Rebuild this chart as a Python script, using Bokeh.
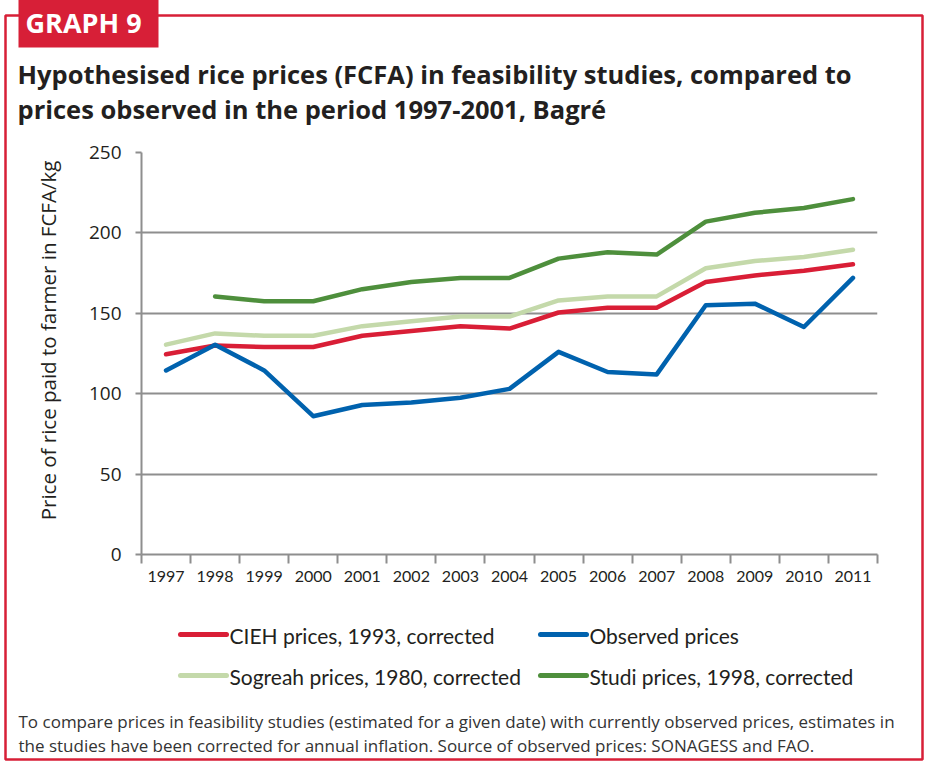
import math
from bokeh.plotting import figure
from bokeh.models import Range1d, FixedTicker
from bokeh.core.properties import value
from bokeh.embed import file_html
from bokeh.resources import INLINE

years = [1997, 1998, 1999, 2000, 2001, 2002, 2003, 2004, 2005, 2006, 2007, 2008, 2009, 2010, 2011]
cieh = [124.5, 130, 129, 129, 136, 139, 142, 140.5, 150.5, 153.5, 153.5, 169.5, 173.5, 176.5, 180.5]
observed = [114.5, 130.5, 114.5, 86, 93, 94.5, 97.5, 103, 126, 113.5, 112, 155, 156, 141.5, 172]
sogreah = [130.5, 137.5, 136, 136, 142, 145, 148, 148, 158, 160.5, 160.5, 178, 182.5, 185, 189.5]
studi = [float("nan"), 160.5, 157.5, 157.5, 165, 169.5, 172, 172, 184, 188, 186.5, 207, 212.5, 215.5, 221]
y_ticks = [0, 50, 100, 150, 200, 250]

series_names = ["CIEH prices, 1993, corrected", "Observed prices",
                "Sogreah prices, 1980, corrected", "Studi prices, 1998, corrected"]
series_colors = ["#D91E36", "#0062AE", "#C4D9AA", "#4E8F3C"]

title_lines = ["Hypothesised rice prices (FCFA) in feasibility studies, compared to",
               "prices observed in the period 1997-2001, Bagré"]
y_label = "Price of rice paid to farmer in FCFA/kg"
note_lines = ["To compare prices in feasibility studies (estimated for a given date) with currently observed prices, estimates in",
              "the studies have been corrected for annual inflation. Source of observed prices: SONAGESS and FAO."]

RED = "#D71F37"
GRAY = "#8E8E8E"
TXT = "#231F20"
NARROW = "Lato"
SANS = "Open Sans"

W, H = 926, 762
FL, FT, FR, FB = 141, 152, 877, 554

p = figure(width=W, height=H, output_backend="svg", toolbar_location=None,
           x_range=Range1d(1996.5, 2011.5), y_range=Range1d(0, 250),
           min_border_left=FL, min_border_right=W - FR, min_border_top=FT, min_border_bottom=H - FB)
p.outline_line_color = None
p.background_fill_color = "white"
p.border_fill_color = "white"
# page-pixel ranges for the decorations around the chart (y grows downwards)
p.extra_x_ranges = {"page": Range1d(FL, FR)}
p.extra_y_ranges = {"page": Range1d(FB, FT)}

# axes
yax = p.yaxis[0]
yax.ticker = FixedTicker(ticks=y_ticks)
yax.major_tick_out = 6
yax.major_tick_in = 0
yax.minor_tick_out = 0
yax.minor_tick_in = 0
yax.axis_line_color = GRAY
yax.axis_line_width = 2
yax.major_tick_line_color = GRAY
yax.major_tick_line_width = 2
yax.major_label_text_font = SANS
yax.major_label_text_font_size = "19px"
yax.major_label_text_color = TXT
yax.major_label_standoff = 14

xax = p.xaxis[0]
xax.ticker = FixedTicker(ticks=years, minor_ticks=[y - 0.5 for y in years] + [years[-1] + 0.5])
xax.major_tick_out = 0
xax.major_tick_in = 0
xax.minor_tick_out = 9
xax.minor_tick_in = 0
xax.minor_tick_line_color = GRAY
xax.minor_tick_line_width = 2
xax.axis_line_color = GRAY
xax.axis_line_width = 2
xax.major_label_overrides = {y: str(y) for y in years}
xax.major_label_text_font = NARROW
xax.major_label_text_font_size = "16px"
xax.major_label_text_color = TXT
xax.major_label_standoff = 7

p.xgrid.visible = False
p.ygrid.ticker = FixedTicker(ticks=y_ticks)
p.ygrid.grid_line_color = GRAY
p.ygrid.grid_line_width = 2

# lines
lw = 4.5
for vals, col in [(cieh, series_colors[0]), (sogreah, series_colors[2]),
                  (studi, series_colors[3]), (observed, series_colors[1])]:
    p.line(years, vals, line_color=col, line_width=lw, line_join="round", line_cap="round")

deco = dict(x_range_name="page", y_range_name="page", level="overlay")

# legend (2 x 2), drawn in page pixels below the axis
leg_x = [180, 540, 180, 540]
leg_y = [634, 634, 675, 675]
p.segment(x0=leg_x, y0=leg_y, x1=[x + 46 for x in leg_x], y1=leg_y, line_color=series_colors,
          line_width=5, line_cap="round", **deco)
p.text(x=[x + 49 for x in leg_x], y=[y + 1 for y in leg_y], text=series_names, text_font=value(NARROW),
       text_font_size="21px", text_color=TXT, text_baseline="middle", **deco)

# outer red frame and the "GRAPH 9" tab
p.quad(left=[5], right=[922], top=[15], bottom=[759], fill_alpha=0,
       line_color=RED, line_width=2.5, **deco)
p.quad(left=[18], right=[158], top=[-4], bottom=[47], fill_color=RED, line_color=None, **deco)
p.text(x=[25], y=[22], text=["GRAPH 9"], text_font=value(SANS), text_font_style="bold",
       text_font_size="27px", text_color="white", text_baseline="alphabetic", **deco)

# title
p.text(x=[17, 17], y=[73.5, 108.5], text=title_lines, text_font=value(SANS), text_font_style="bold",
       text_font_size="25.5px", text_color=TXT, text_baseline="alphabetic", **deco)

# y axis title
p.text(x=[47], y=[340], text=[y_label], angle=math.pi / 2, text_align="center", text_baseline="middle",
       text_font=value(SANS), text_font_size="20.5px", text_color=TXT, **deco)

# note
p.text(x=[18, 18], y=[720.5, 744.5], text=note_lines, text_font=value(SANS), text_font_size="17px",
       text_color="#333333", text_baseline="alphabetic", **deco)

open("out.html", "w").write(file_html(p, INLINE))
